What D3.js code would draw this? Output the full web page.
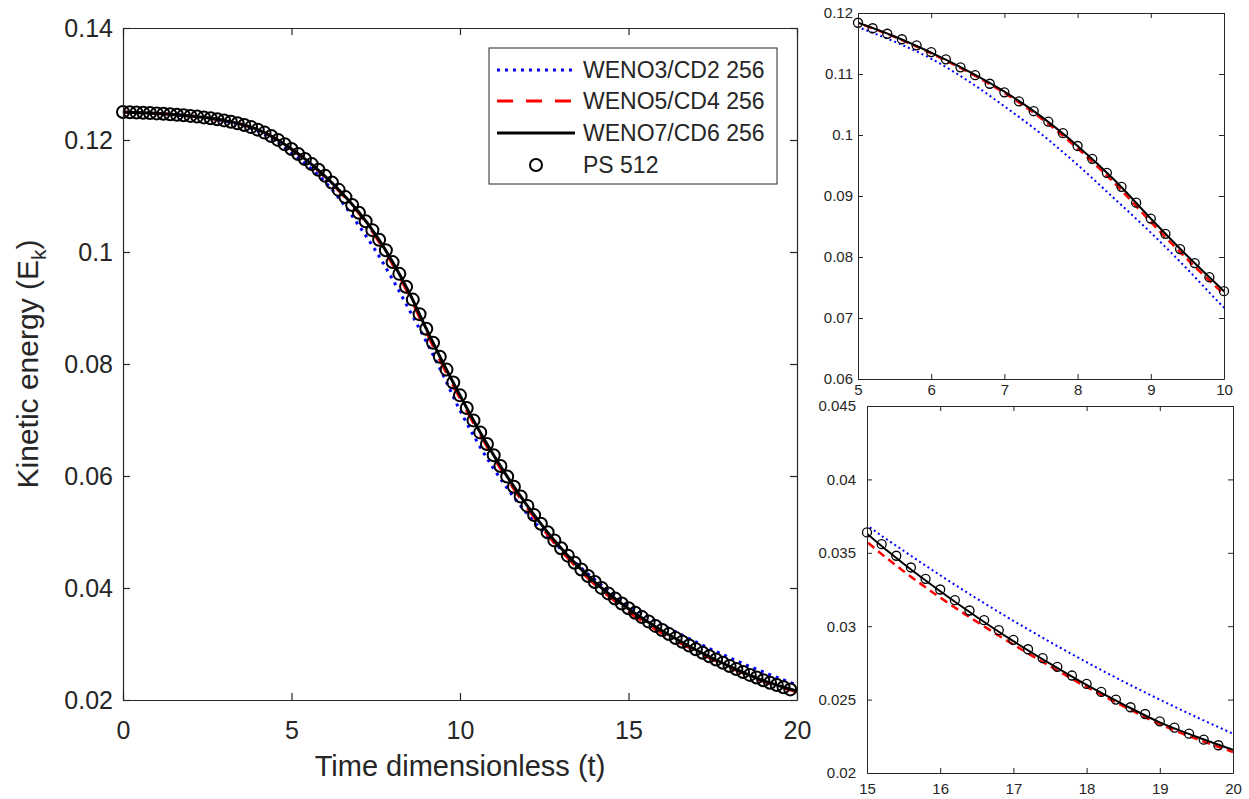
<!DOCTYPE html>
<html lang="en">
  <head>
    <meta charset="UTF-8" />
    <title>Kinetic energy decay</title>
    <script src="https://d3js.org/d3.v7.min.js"></script>
    <style>
      body {
        margin: 0;
        background: #fff;
      }
      text {
        font-family: "Liberation Sans", Arial, sans-serif;
        fill: #262626;
      }
      .axis path,
      .axis line {
        stroke: #262626;
      }
    </style>
  </head>
  <body>
    <svg width="1249" height="799"></svg>

    <script>
      // time grid of the three WENO runs
      var tLine = [
        0, 0.5, 1, 1.5, 2, 2.5, 3, 3.5, 4, 4.5, 5, 5.5, 6, 6.5, 7, 7.5, 8, 8.5,
        9, 9.5, 10, 10.5, 11, 11.5, 12, 12.5, 13, 13.5, 14, 14.5, 15, 15.5, 16,
        16.5, 17, 17.5, 18, 18.5, 19, 19.5, 20,
      ];

      var weno3 = [
        0.125, 0.12488, 0.12474, 0.12453, 0.12426, 0.1239, 0.1234, 0.12268,
        0.1216, 0.12, 0.1177, 0.1153, 0.1125, 0.1089, 0.1047, 0.1002, 0.0951,
        0.0896, 0.084, 0.078, 0.0717, 0.0662, 0.0613, 0.057, 0.0532, 0.0499,
        0.0469, 0.0441, 0.0415, 0.0391, 0.03689, 0.03514, 0.03347, 0.03188,
        0.03037, 0.02893, 0.02755, 0.02624, 0.025, 0.02381, 0.02268,
      ];

      var weno5 = [
        0.125, 0.12488, 0.12475, 0.12456, 0.1243, 0.12396, 0.1235, 0.12283,
        0.12183, 0.12034, 0.11836, 0.11608, 0.11338, 0.11035, 0.1069, 0.10275,
        0.0978, 0.09215, 0.08575, 0.0796, 0.0739, 0.0684, 0.0633, 0.0586,
        0.05425, 0.0503, 0.0467, 0.0435, 0.04065, 0.03812, 0.03575, 0.03375,
        0.03195, 0.0303, 0.02875, 0.02727, 0.02586, 0.02456, 0.02333, 0.02232,
        0.02143,
      ];

      var weno7 = [
        0.125, 0.12488, 0.12475, 0.12456, 0.1243, 0.12396, 0.1235, 0.12284,
        0.12185, 0.12037, 0.1184, 0.11615, 0.1135, 0.1105, 0.1071, 0.10305,
        0.0982, 0.09265, 0.0863, 0.08015, 0.0744, 0.06885, 0.06372, 0.059,
        0.05466, 0.0507, 0.04711, 0.0439, 0.04106, 0.03857, 0.0363, 0.03425,
        0.03238, 0.03063, 0.02898, 0.02745, 0.026, 0.02468, 0.02345, 0.02247,
        0.02158,
      ];

      // pseudo-spectral reference, one marker every 0.2
      var tPS = [
        0, 0.2, 0.4, 0.6, 0.8, 1, 1.2, 1.4, 1.6, 1.8, 2, 2.2, 2.4, 2.6, 2.8, 3,
        3.2, 3.4, 3.6, 3.8, 4, 4.2, 4.4, 4.6, 4.8, 5, 5.2, 5.4, 5.6, 5.8, 6, 6.2,
        6.4, 6.6, 6.8, 7, 7.2, 7.4, 7.6, 7.8, 8, 8.2, 8.4, 8.6, 8.8, 9, 9.2, 9.4,
        9.6, 9.8, 10, 10.2, 10.4, 10.6, 10.8, 11, 11.2, 11.4, 11.6, 11.8, 12,
        12.2, 12.4, 12.6, 12.8, 13, 13.2, 13.4, 13.6, 13.8, 14, 14.2, 14.4, 14.6,
        14.8, 15, 15.2, 15.4, 15.6, 15.8, 16, 16.2, 16.4, 16.6, 16.8, 17, 17.2,
        17.4, 17.6, 17.8, 18, 18.2, 18.4, 18.6, 18.8, 19, 19.2, 19.4, 19.6, 19.8,
      ];

      var ps512 = [
        0.125, 0.12496, 0.12491, 0.12486, 0.12481, 0.12475, 0.12468, 0.1246,
        0.12451, 0.12441, 0.1243, 0.12418, 0.12404, 0.12388, 0.1237, 0.1235,
        0.12327, 0.123, 0.12268, 0.1223, 0.12185, 0.12132, 0.12071, 0.12002,
        0.11925, 0.1184, 0.1175, 0.1166, 0.1157, 0.1147, 0.1136, 0.1124, 0.1111,
        0.1098, 0.1084, 0.107, 0.1055, 0.1039, 0.1022, 0.1003, 0.0982, 0.0961,
        0.0938, 0.0915, 0.0889, 0.0863, 0.0838, 0.0813, 0.079, 0.0767, 0.0744,
        0.07213, 0.06993, 0.06779, 0.06572, 0.06372, 0.06178, 0.05991, 0.05809,
        0.05634, 0.05466, 0.05302, 0.05146, 0.04995, 0.0485, 0.04711, 0.04578,
        0.0445, 0.0433, 0.04215, 0.04106, 0.04002, 0.03904, 0.03812, 0.03724,
        0.03639, 0.03559, 0.0348, 0.034, 0.03323, 0.0325, 0.03177, 0.03107,
        0.03041, 0.02973, 0.02907, 0.02843, 0.02782, 0.02723, 0.02664, 0.02607,
        0.02552, 0.025, 0.02448, 0.02402, 0.02352, 0.02309, 0.02268, 0.02227,
        0.02189,
      ];

      var seriesNames = [
        "WENO3/CD2 256",
        "WENO5/CD4 256",
        "WENO7/CD6 256",
        "PS 512",
      ];

      var mainXTicks = [0, 5, 10, 15, 20];
      var mainYTicks = [0.02, 0.04, 0.06, 0.08, 0.1, 0.12, 0.14];
      var zoom1XTicks = [5, 6, 7, 8, 9, 10];
      var zoom1YTicks = [0.06, 0.07, 0.08, 0.09, 0.1, 0.11, 0.12];
      var zoom2XTicks = [15, 16, 17, 18, 19, 20];
      var zoom2YTicks = [0.02, 0.025, 0.03, 0.035, 0.04, 0.045];

      var svg = d3.select("svg");
      svg
        .append("rect")
        .attr("width", 1249)
        .attr("height", 799)
        .attr("fill", "#fff");

      var lineSets = [
        { y: weno3, color: "#0000ff", kind: "dot" },
        { y: weno5, color: "#ff0000", kind: "dash" },
        { y: weno7, color: "#000000", kind: "solid" },
      ];

      var clipCount = 0;

      function drawPanel(box, xDom, yDom, xTicks, yTicks, st) {
        var x = d3.scaleLinear().domain(xDom).range([box.left, box.right]);
        var y = d3.scaleLinear().domain(yDom).range([box.bottom, box.top]);
        var g = svg.append("g");

        g.append("rect")
          .attr("x", box.left)
          .attr("y", box.top)
          .attr("width", box.right - box.left)
          .attr("height", box.bottom - box.top)
          .attr("fill", "#fff");

        var clipId = "clip" + clipCount++;
        g.append("clipPath")
          .attr("id", clipId)
          .append("rect")
          .attr("x", box.left)
          .attr("y", box.top)
          .attr("width", box.right - box.left)
          .attr("height", box.bottom - box.top);

        var line = d3
          .line()
          .x(function (d) {
            return x(d[0]);
          })
          .y(function (d) {
            return y(d[1]);
          })
          .curve(d3.curveCatmullRom);

        lineSets.forEach(function (s) {
          var pts = tLine.map(function (t, i) {
            return [t, s.y[i]];
          });
          var p = g
            .append("path")
            .attr("clip-path", "url(#" + clipId + ")")
            .attr("d", line(pts))
            .attr("fill", "none")
            .attr("stroke", s.color)
            .attr("stroke-width", st.lw[s.kind]);
          if (s.kind == "dot") p.attr("stroke-dasharray", st.dot);
          if (s.kind == "dash") p.attr("stroke-dasharray", st.dash);
        });

        var marks = tPS
          .map(function (t, i) {
            return [t, ps512[i]];
          })
          .filter(function (d) {
            return (
              d[0] >= xDom[0] - 1e-9 &&
              d[0] <= xDom[1] + 1e-9 &&
              d[1] >= yDom[0] &&
              d[1] <= yDom[1]
            );
          });

        g.selectAll(null)
          .data(marks)
          .enter()
          .append("circle")
          .attr("cx", function (d) {
            return x(d[0]);
          })
          .attr("cy", function (d) {
            return y(d[1]);
          })
          .attr("r", st.r)
          .attr("fill", "none")
          .attr("stroke", "#000")
          .attr("stroke-width", st.rw);

        var fmt = function (d) {
          return String(d);
        };

        function axis(a, tr, labels, pad) {
          var ax = g
            .append("g")
            .attr("class", "axis")
            .attr("transform", tr)
            .call(
              a
                .tickSizeInner(-st.tick)
                .tickSizeOuter(0)
                .tickPadding(pad)
                .tickFormat(labels ? fmt : "")
            );
          ax.selectAll("path, line").attr("stroke-width", st.aw);
          ax.selectAll("text")
            .style("font-size", st.font + "px")
            .attr("fill", "#262626");
          return ax;
        }

        axis(
          d3.axisBottom(x).tickValues(xTicks),
          "translate(0," + box.bottom + ")",
          true,
          st.xpad
        );
        axis(
          d3.axisTop(x).tickValues(xTicks),
          "translate(0," + box.top + ")",
          false,
          0
        );
        axis(
          d3.axisLeft(y).tickValues(yTicks),
          "translate(" + box.left + ",0)",
          true,
          st.ypad
        );
        axis(
          d3.axisRight(y).tickValues(yTicks),
          "translate(" + box.right + ",0)",
          false,
          0
        );

        return { g: g, x: x, y: y };
      }

      var main = drawPanel(
        { left: 123, right: 797, top: 28, bottom: 700 },
        [0, 20],
        [0.02, 0.14],
        mainXTicks,
        mainYTicks,
        {
          lw: { dot: 3, dash: 3, solid: 3 },
          dot: "3,5",
          dash: "16,13",
          r: 6,
          rw: 2,
          tick: 7,
          aw: 1.2,
          font: 25,
          xpad: 21,
          ypad: 10,
        }
      );

      drawPanel(
        { left: 858, right: 1224, top: 13, bottom: 379 },
        [5, 10],
        [0.06, 0.12],
        zoom1XTicks,
        zoom1YTicks,
        {
          lw: { dot: 2, dash: 2.5, solid: 2 },
          dot: "2,3",
          dash: "8,5",
          r: 4.5,
          rw: 1.3,
          tick: 5,
          aw: 1,
          font: 15,
          xpad: 5,
          ypad: 5,
        }
      );

      drawPanel(
        { left: 867, right: 1233, top: 406, bottom: 773 },
        [15, 20],
        [0.02, 0.045],
        zoom2XTicks,
        zoom2YTicks,
        {
          lw: { dot: 2, dash: 2.5, solid: 2 },
          dot: "2,3",
          dash: "8,5",
          r: 4.5,
          rw: 1.3,
          tick: 5,
          aw: 1,
          font: 15,
          xpad: 10,
          ypad: 11,
        }
      );

      // axis titles of the main plot
      svg
        .append("text")
        .attr("x", 460)
        .attr("y", 776)
        .attr("text-anchor", "middle")
        .style("font-size", "29px")
        .text("Time dimensionless (t)");

      var ylab = svg
        .append("text")
        .attr("transform", "translate(38,364) rotate(-90)")
        .attr("text-anchor", "middle")
        .style("font-size", "30px");
      ylab.append("tspan").text("Kinetic energy (E");
      ylab
        .append("tspan")
        .attr("dy", 8)
        .style("font-size", "21px")
        .text("k");
      ylab.append("tspan").attr("dy", -8).text(")");

      // legend
      var leg = svg.append("g");
      leg
        .append("rect")
        .attr("x", 489)
        .attr("y", 48)
        .attr("width", 288)
        .attr("height", 136)
        .attr("fill", "#fff")
        .attr("stroke", "#262626")
        .attr("stroke-width", 1);

      var legRows = [70, 101, 133, 165];
      lineSets.forEach(function (s, i) {
        var l = leg
          .append("line")
          .attr("x1", 497)
          .attr("x2", 575)
          .attr("y1", legRows[i])
          .attr("y2", legRows[i])
          .attr("stroke", s.color)
          .attr("stroke-width", 3);
        if (s.kind == "dot") l.attr("stroke-dasharray", "3,5");
        if (s.kind == "dash") l.attr("stroke-dasharray", "16,13");
      });
      leg
        .append("circle")
        .attr("cx", 536)
        .attr("cy", legRows[3])
        .attr("r", 6)
        .attr("fill", "none")
        .attr("stroke", "#000")
        .attr("stroke-width", 2);

      seriesNames.forEach(function (n, i) {
        leg
          .append("text")
          .attr("x", 583)
          .attr("y", legRows[i] + 8)
          .style("font-size", "23px")
          .attr("fill", "#000")
          .text(n);
      });
    </script>
  </body>
</html>
